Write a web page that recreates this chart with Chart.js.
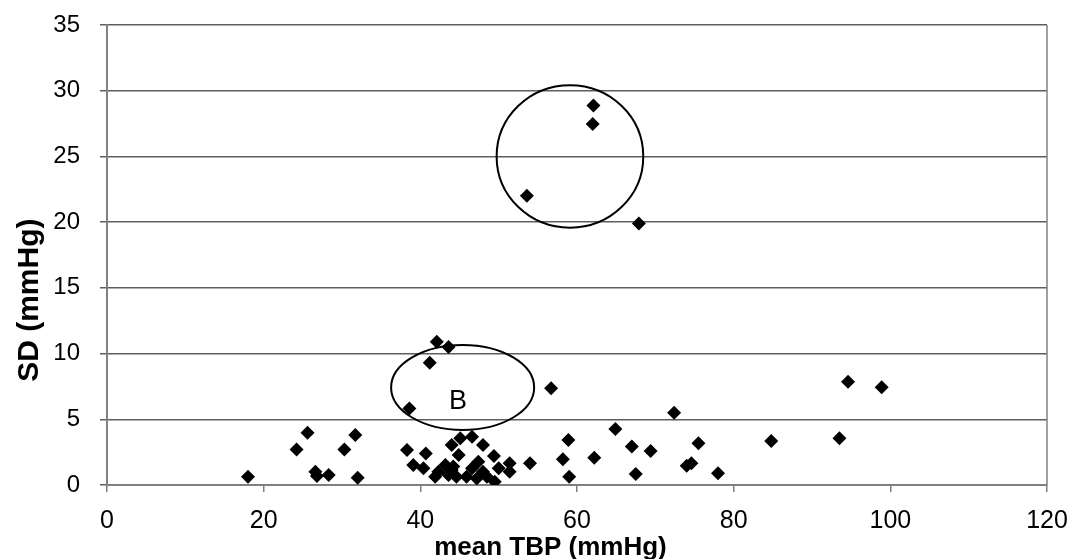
<!DOCTYPE html>
<html>
<head>
<meta charset="utf-8">
<script src="https://cdn.jsdelivr.net/npm/chart.js@4.4.1/dist/chart.umd.min.js"></script>
<style>
  html, body { margin: 0; padding: 0; background: #fff; }
  #wrap { width: 1071px; height: 559px; position: relative; }
</style>
</head>
<body>
<div id="wrap"><canvas id="chart"></canvas></div>
<script>
// mean TBP (x) / SD (y)
const meanTBP = [
  18.0, 24.2, 25.6, 26.6, 26.8, 28.3, 30.3, 31.7, 32.0,
  38.3, 38.6, 39.1, 40.4, 40.7, 41.2, 41.9, 42.1, 42.3, 43.2, 43.6, 43.6, 44.0,
  44.0, 44.2, 44.6, 44.9, 45.1, 45.9, 46.6, 46.6, 47.2, 47.4, 48.0, 48.0, 48.5,
  49.4, 49.5, 50.0, 51.4, 51.4, 53.6, 54.0, 56.7, 58.2, 58.9, 59.0,
  62.0, 62.1, 62.2, 64.9, 67.0, 67.5, 67.9, 69.4, 72.4, 74.0, 74.6, 75.5, 78.0,
  84.8, 93.5, 94.6, 98.9
];
const sdValues = [
  0.63, 2.7, 3.98, 1.0, 0.68, 0.76, 2.7, 3.8, 0.56,
  2.66, 5.83, 1.52, 1.27, 2.4, 9.3, 0.63, 10.9, 1.0, 1.52, 0.76, 10.5, 1.14,
  3.04, 1.4, 0.63, 2.28, 3.55, 0.63, 3.68, 1.27, 0.5, 1.77, 3.04, 1.0, 0.63,
  2.2, 0.25, 1.27, 1.65, 1.0, 22.0, 1.65, 7.36, 1.95, 3.42, 0.63,
  27.47, 28.87, 2.08, 4.26, 2.92, 0.84, 19.9, 2.59, 5.5, 1.47, 1.65, 3.17, 0.89,
  3.35, 3.55, 7.86, 7.43
];
const xTicks = [0, 20, 40, 60, 80, 100, 120];
const yTicks = [0, 5, 10, 15, 20, 25, 30, 35];
const xTitle = "mean TBP (mmHg)";
const yTitle = "SD (mmHg)";

// hand-drawn ellipses on the original (centre and radii in axis units)
const ellipses = [
  { cx: 59.1, cy: 25.0, rx: 9.36, ry: 5.42, label: "" },
  { cx: 45.4, cy: 7.42, rx: 9.13, ry: 3.23, label: "B" },
];

const points = meanTBP.map((x, i) => ({ x: x, y: sdValues[i] }));
const FONT = "'Liberation Sans', Arial, sans-serif";

const overlay = {
  id: "overlay",
  afterDatasetsDraw(chart) {
    const { ctx, chartArea, scales } = chart;
    const xs = scales.x, ys = scales.y;
    ctx.save();
    // right border of the plot box
    ctx.strokeStyle = "#808080";
    ctx.lineWidth = 1.5;
    ctx.beginPath();
    ctx.moveTo(chartArea.right, chartArea.top);
    ctx.lineTo(chartArea.right, chartArea.bottom);
    ctx.stroke();

    ctx.strokeStyle = "#000";
    ctx.lineWidth = 2;
    ellipses.forEach((e) => {
      const cx = xs.getPixelForValue(e.cx);
      const cy = ys.getPixelForValue(e.cy);
      const rx = Math.abs(xs.getPixelForValue(e.cx + e.rx) - cx);
      const ry = Math.abs(ys.getPixelForValue(e.cy + e.ry) - cy);
      ctx.beginPath();
      ctx.ellipse(cx, cy, rx, ry, 0, 0, Math.PI * 2);
      ctx.stroke();
      if (e.label) {
        ctx.fillStyle = "#000";
        ctx.font = "27px " + FONT;
        ctx.textAlign = "center";
        ctx.textBaseline = "middle";
        ctx.fillText(e.label, xs.getPixelForValue(e.cx - 0.6), ys.getPixelForValue(e.cy - 1.1));
      }
    });

    // axis titles (the original centres them on the whole picture, not the plot)
    ctx.fillStyle = "#000";
    ctx.textAlign = "center";
    ctx.textBaseline = "middle";
    ctx.font = "bold 26px " + FONT;
    ctx.fillText(xTitle, chart.width * 0.514, chartArea.bottom + 63);
    ctx.translate(30, chart.height * 0.537);
    ctx.rotate(-Math.PI / 2);
    ctx.font = "bold 30px " + FONT;
    ctx.fillText(yTitle, 0, 0);
    ctx.restore();
  },
};

const ctx = document.getElementById("chart").getContext("2d");
new Chart(ctx, {
  type: "scatter",
  data: {
    datasets: [
      {
        data: points,
        pointStyle: "rectRot",
        pointRadius: 7,
        pointHoverRadius: 7,
        backgroundColor: "#000",
        borderColor: "#000",
        borderWidth: 0,
      },
    ],
  },
  options: {
    responsive: true,
    maintainAspectRatio: false,
    animation: false,
    layout: { padding: { left: 0, right: 24, top: 25, bottom: 0 } },
    plugins: { legend: { display: false }, tooltip: { enabled: false } },
    scales: {
      x: {
        type: "linear",
        min: 0,
        max: 120,
        afterBuildTicks: (s) => { s.ticks = xTicks.map((v) => ({ value: v })); },
        afterFit: (s) => { s.height = 74; s.paddingLeft = 0; s.paddingRight = 0; },
        ticks: {
          color: "#000",
          padding: 17,
          font: { family: FONT, size: 25, lineHeight: 1 },
        },
        grid: { drawOnChartArea: false, drawTicks: true, tickLength: 7, color: "#808080", lineWidth: 1.5 },
        border: { color: "#808080", width: 2 },
      },
      y: {
        type: "linear",
        min: 0,
        max: 35,
        afterBuildTicks: (s) => { s.ticks = yTicks.map((v) => ({ value: v })); },
        afterFit: (s) => { s.width = 107; s.paddingTop = 0; s.paddingBottom = 0; },
        ticks: {
          color: "#000",
          padding: 20,
          font: { family: FONT, size: 24, lineHeight: 1 },
        },
        grid: { color: "#5e5e5e", lineWidth: 1.5, tickLength: 7 },
        border: { color: "#808080", width: 2 },
      },
    },
  },
  plugins: [overlay],
});
</script>
</body>
</html>
